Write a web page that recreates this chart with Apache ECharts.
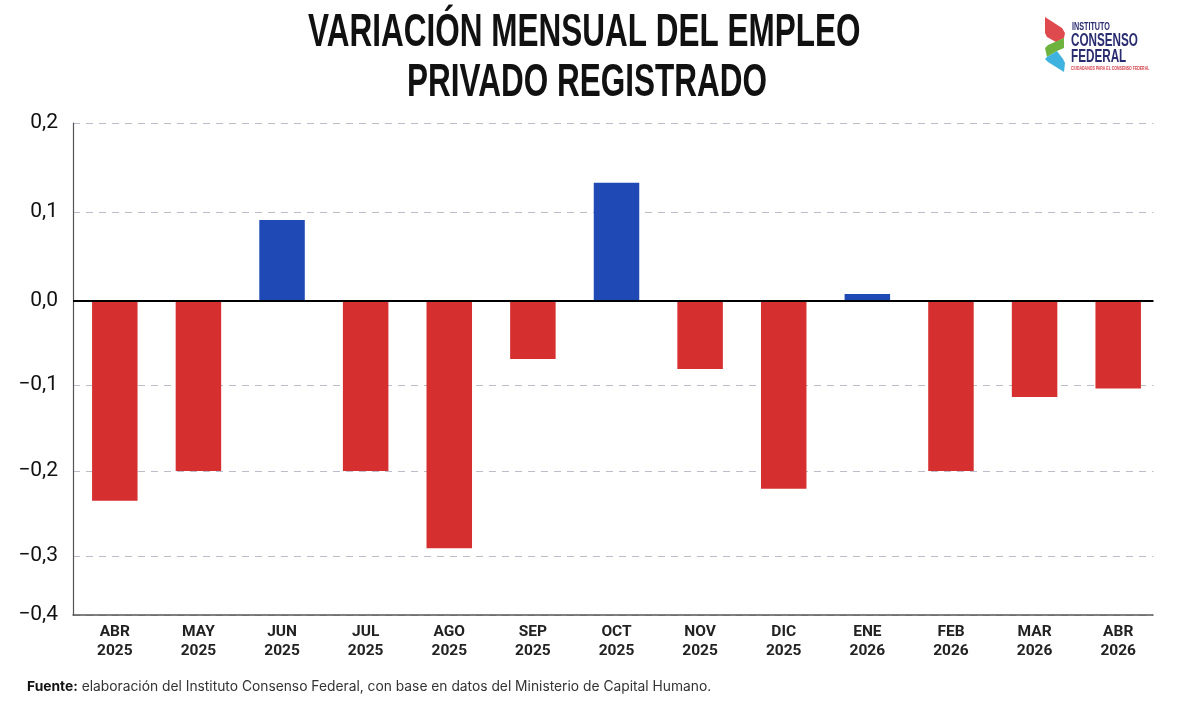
<!DOCTYPE html>
<html>
<head>
<meta charset="utf-8">
<script src="https://cdn.jsdelivr.net/npm/echarts@6/dist/echarts.min.js"></script>
<style>html,body{margin:0;padding:0;background:#fff}#c{width:1179px;height:708px}</style>
</head>
<body>
<div id="c"></div>
<script>
const months = ['ABR','MAY','JUN','JUL','AGO','SEP','OCT','NOV','DIC','ENE','FEB','MAR','ABR'];
const years = ['2025','2025','2025','2025','2025','2025','2025','2025','2025','2026','2026','2026','2026'];
const values = [-0.235,-0.2,0.091,-0.2,-0.291,-0.069,0.133,-0.081,-0.221,0.008,-0.2,-0.114,-0.104];
// The reference's axis is not evenly spaced: each tick value and where it falls on the drawn scale.
const tickValues = [0.2,0.1,0,-0.1,-0.2,-0.3,-0.4];
const tickPlaces = [0.2,0.1,0,-0.0944,-0.191,-0.2865,-0.3528];

function toPlace(v){
  for(let i=0;i<tickValues.length-1;i++){
    const a=tickValues[i],b=tickValues[i+1];
    if(v<=a&&v>=b) return tickPlaces[i]+(v-a)/(b-a)*(tickPlaces[i+1]-tickPlaces[i]);
  }
  return v;
}
const RED='#d5302f',BLUE='#1f49b4',NAVY='#2a2c70';
const WIDE='"Liberation Sans"';
const squeezed=(text,x,y,size,sx,fill)=>({
  type:'text',z:101,x,y,scaleX:sx,
  style:{text,fontFamily:WIDE,fontWeight:'bold',fontSize:size,fill}
});
const chart=echarts.init(document.getElementById('c'),null,{renderer:'canvas'});
chart.setOption({
  animation:false,
  backgroundColor:'#fff',
  grid:{left:73,right:19,top:123,bottom:93,containLabel:false},
  xAxis:{
    type:'category',
    data:months.map((m,i)=>m+'\n'+years[i]),
    axisLine:{onZero:false,lineStyle:{color:'#555',width:1.5}},
    axisTick:{show:false},
    axisLabel:{interval:0,margin:7,fontFamily:'Roboto',fontWeight:'bold',fontSize:15.5,lineHeight:19.5,color:'#222'}
  },
  yAxis:{
    type:'value',
    min:tickPlaces[tickPlaces.length-1],max:tickPlaces[0],
    axisLine:{show:true,lineStyle:{color:'#555',width:1.2}},
    axisTick:{show:false,customValues:tickPlaces},
    splitLine:{show:true,lineStyle:{color:'#bcbcca',type:[7,6],width:1}},
    axisLabel:{
      customValues:tickPlaces,margin:15,padding:[3,0,0,0],
      fontFamily:'Roboto',fontSize:21,color:'#111',
      formatter:p=>{
        const i=tickPlaces.findIndex(t=>Math.abs(t-p)<1e-6);
        return tickValues[i].toFixed(1).replace('.',',').replace('-','−');
      }
    }
  },
  series:[{
    type:'bar',
    barWidth:45.5,
    data:values.map(v=>({value:toPlace(v),itemStyle:{color:v<0?RED:BLUE}})),
    markLine:{silent:true,symbol:'none',label:{show:false},
      lineStyle:{color:'#000',width:2,type:'solid'},data:[{yAxis:0}],z:10}
  }],
  graphic:[
    {type:'rect',z:100,shape:{x:1153.5,y:110,width:9,height:510},style:{fill:'#fff'}},
    squeezed('VARIACIÓN MENSUAL DEL EMPLEO',308,10,46,0.685,'#111'),
    squeezed('PRIVADO REGISTRADO',407,60,46,0.685,'#111'),
    {type:'polygon',z:101,shape:{points:[[1045,17],[1062,28],[1065,33],[1064,38],[1056,42],[1047,37],[1045,33]]},style:{fill:'#df4a4e'}},
    {type:'polygon',z:101,shape:{points:[[1045,48],[1048,45],[1064,38],[1064,48],[1057,51],[1047,57]]},style:{fill:'#6fb33f'}},
    {type:'polygon',z:101,shape:{points:[[1047,57],[1057,51],[1063,59],[1065,63],[1064,72],[1048,62],[1045,59]]},style:{fill:'#3fb3e0'}},
    squeezed('INSTITUTO',1072,22,10,0.72,NAVY),
    squeezed('CONSENSO',1071,32,18,0.65,NAVY),
    squeezed('FEDERAL',1071,48,18,0.65,NAVY),
    squeezed('CIUDADANOS PARA EL CONSENSO FEDERAL',1071,66,5,0.7,'#d5414a'),
    {type:'text',z:101,x:27,y:680,style:{
      text:'{b|Fuente:} elaboración del Instituto Consenso Federal, con base en datos del Ministerio de Capital Humano.',
      fontFamily:'Inter',fontSize:13.8,fill:'#333',
      rich:{b:{fontFamily:'Inter',fontWeight:'bold',fontSize:13.8,fill:'#111'}}
    }}
  ]
});
</script>
</body>
</html>
